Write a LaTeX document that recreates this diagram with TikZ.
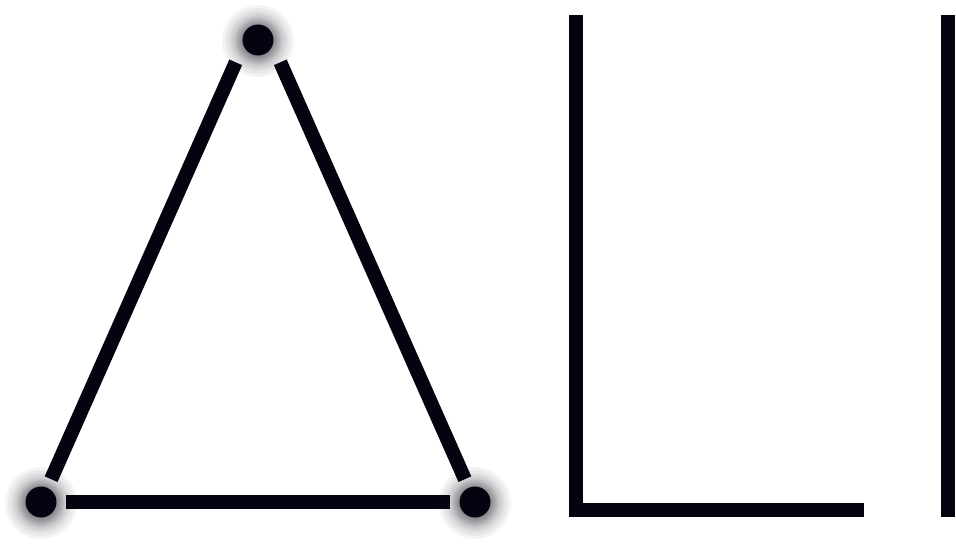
\documentclass[tikz,border=0pt]{standalone}
\usepackage{tikz}
\usepackage{xcolor}

\definecolor{ink}{RGB}{5,3,15}

\tikzset{
    dot/.style={circle,inner sep=0pt,minimum size=15.5pt,outer sep=4.75pt,fill=ink},
    bar/.style={draw=ink,line width=7pt,line cap=butt},
}

\begin{document}
\begin{tikzpicture}[x=0.5pt,y=-0.5pt]
        \useasboundingbox (0,0) rectangle (956,543);
        % glow
        \foreach \x/\y in {258/41,41/503,475/503} {
            \foreach \r in {8,8.5,9,9.5,10,10.5,11,11.5,12,13,14,15,16.5,18} {
                \fill [ink,opacity=.045] (\x,\y) circle (\r pt);
            }
        }
        % vertices
        \node [dot] (top) at (258,40) {};
        \node [dot] (left) at (41,502) {};
        \node [dot] (right) at (475,502) {};
        \coordinate (apex) at (258,12);
        % triangle
        \draw [bar,shorten <=27.5pt] (apex) -- (left);
        \draw [bar,shorten <=27.5pt] (apex) -- (right);
        \draw [bar] (left) -- (right);
        % L
        \draw [bar,line join=miter] (576,15) -- (576,510) -- (864,510);
        % I
        \draw [bar] (948,15) -- (948,517);
    \end{tikzpicture}
\end{document}
